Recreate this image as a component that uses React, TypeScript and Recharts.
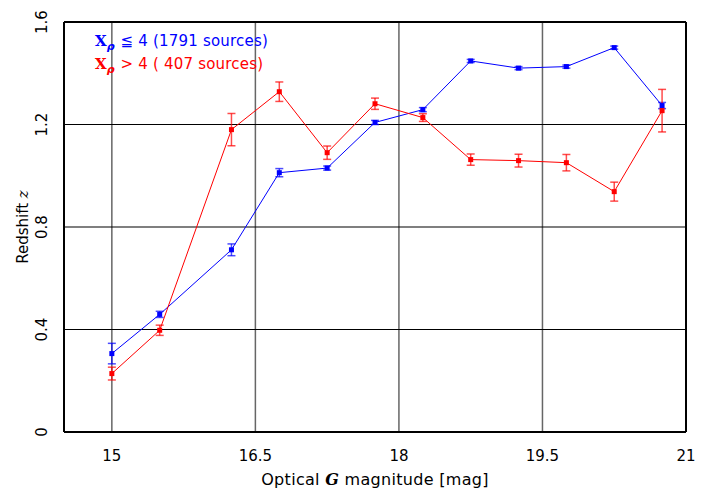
import {
  CartesianGrid,
  ErrorBar,
  Line,
  LineChart,
  ReferenceLine,
  XAxis,
  YAxis,
} from 'recharts'

const MAGS = [15, 15.5, 16.25, 16.75, 17.25, 17.75, 18.25, 18.75, 19.25, 19.75, 20.25, 20.75]
const LOW_Z = [0.306, 0.459, 0.711, 1.012, 1.03, 1.208, 1.258, 1.448, 1.42, 1.426, 1.5, 1.274]
const LOW_ERR = [0.04, 0.012, 0.023, 0.016, 0.008, 0.008, 0.008, 0.006, 0.006, 0.006, 0.006, 0.012]
const HIGH_Z = [0.228, 0.397, 1.18, 1.328, 1.09, 1.281, 1.227, 1.063, 1.059, 1.051, 0.938, 1.254]
const HIGH_ERR = [0.025, 0.02, 0.063, 0.038, 0.026, 0.022, 0.015, 0.022, 0.025, 0.032, 0.037, 0.083]
const X_TICKS = [15, 16.5, 18, 19.5, 21]
const Y_TICKS = [0, 0.4, 0.8, 1.2, 1.6]

const BLUE = '#0000ff'
const RED = '#ff0000'
const FONT = '"DejaVu Sans", sans-serif'

const rows = MAGS.map((m, i) => ({
  m,
  low: LOW_Z[i],
  lowErr: LOW_ERR[i],
  high: HIGH_Z[i],
  highErr: HIGH_ERR[i],
}))

function SquareDot(color: string) {
  return (props: { cx?: number; cy?: number; index?: number }) => {
    const { cx, cy, index } = props
    if (cx == null || cy == null) return <g key={index} />
    return <rect key={index} x={cx - 2.5} y={cy - 2.5} width={5} height={5} fill={color} />
  }
}

function XTick({ x, y, payload }: { x?: number; y?: number; payload?: { value: number } }) {
  return (
    <text x={x} y={(y ?? 0) + 21} textAnchor="middle" fontFamily={FONT} fontSize={15} fill="#000">
      {payload?.value}
    </text>
  )
}

function YTick({ y, payload }: { x?: number; y?: number; payload?: { value: number } }) {
  const cx = 47
  return (
    <text
      x={cx}
      y={y}
      transform={`rotate(-90 ${cx} ${y})`}
      textAnchor="middle"
      fontFamily={FONT}
      fontSize={15}
      fill="#000"
    >
      {payload?.value}
    </text>
  )
}

function LegendRow({ color, text }: { color: string; text: string }) {
  return (
    <div style={{ color, height: 23, whiteSpace: 'pre' }}>
      <span style={{ fontFamily: '"DejaVu Serif", serif', fontWeight: 'bold', fontSize: 15 }}>X</span>
      <sub style={{ fontWeight: 'bold', fontStyle: 'italic', fontSize: 11, marginRight: 6 }}>ρ</sub>
      <span style={{ letterSpacing: 0.2 }}>{text}</span>
    </div>
  )
}

export default function App() {
  return (
    <div style={{ position: 'absolute', left: 0, top: 0, width: 711, height: 495, background: '#fff' }}>
      <LineChart width={711} height={495} data={rows} margin={{ top: 22, right: 25, bottom: 0, left: 0 }}>
        <CartesianGrid horizontal={false} verticalValues={X_TICKS} stroke="#666" strokeWidth={1.5} />
        <CartesianGrid vertical={false} horizontalValues={Y_TICKS} stroke="#000" strokeWidth={1.2} />
        <XAxis
          dataKey="m"
          type="number"
          domain={[14.5, 21]}
          ticks={X_TICKS}
          tick={<XTick />}
          tickLine={false}
          axisLine={{ stroke: '#000', strokeWidth: 2 }}
          height={63}
          allowDataOverflow
        />
        <YAxis
          type="number"
          domain={[0, 1.6]}
          ticks={Y_TICKS}
          tick={<YTick />}
          tickLine={false}
          axisLine={{ stroke: '#000', strokeWidth: 2 }}
          width={64}
          allowDataOverflow
        />
        <ReferenceLine x={21} stroke="#000" strokeWidth={2} />
        <ReferenceLine y={1.6} stroke="#000" strokeWidth={2} />
        <Line
          dataKey="low"
          stroke={BLUE}
          strokeWidth={1}
          dot={SquareDot(BLUE)}
          activeDot={false}
          isAnimationActive={false}
        >
          <ErrorBar dataKey="lowErr" direction="y" width={4} stroke={BLUE} strokeOpacity={0.7} strokeWidth={1.5} />
        </Line>
        <Line
          dataKey="high"
          stroke={RED}
          strokeWidth={1}
          dot={SquareDot(RED)}
          activeDot={false}
          isAnimationActive={false}
        >
          <ErrorBar dataKey="highErr" direction="y" width={4} stroke={RED} strokeOpacity={0.7} strokeWidth={1.5} />
        </Line>
      </LineChart>
      <div style={{ position: 'absolute', left: 95, top: 31, fontFamily: FONT, fontSize: 15, lineHeight: '20px' }}>
        <LegendRow color={BLUE} text="≦ 4 (1791 sources)" />
        <LegendRow color={RED} text="> 4 ( 407 sources)" />
      </div>
      <div
        style={{
          position: 'absolute',
          left: 0,
          width: 750,
          top: 470,
          textAlign: 'center',
          fontFamily: FONT,
          fontSize: 16,
          letterSpacing: 0.3,
          color: '#000',
        }}
      >
        Optical <i style={{ fontFamily: '"DejaVu Serif", serif', fontWeight: 'bold' }}>G</i> magnitude [mag]
      </div>
      <div
        style={{
          position: 'absolute',
          left: 23,
          top: 227,
          transform: 'translate(-50%, -50%) rotate(-90deg)',
          whiteSpace: 'nowrap',
          fontFamily: FONT,
          fontSize: 15,
          color: '#000',
        }}
      >
        Redshift <i style={{ fontFamily: '"DejaVu Serif", serif' }}>z</i>
      </div>
    </div>
  )
}
